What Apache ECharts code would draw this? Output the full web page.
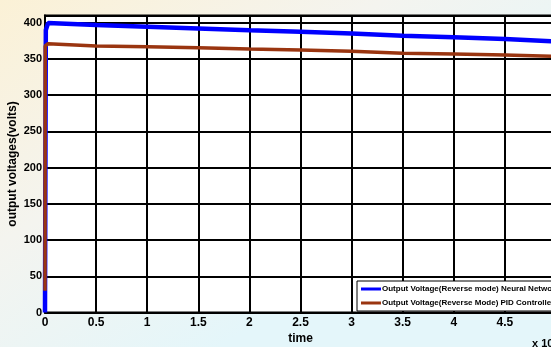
<!DOCTYPE html>
<html>
<head>
<meta charset="utf-8">
<script src="https://cdn.jsdelivr.net/npm/echarts@6/dist/echarts.min.js"></script>
<style>
  html, body { margin: 0; padding: 0; }
  #chart { width: 551px; height: 347px; }
</style>
</head>
<body>
<div id="chart"></div>
<script>
// time axis is in units of x 10^4
var timeNN = [0, 0.008, 0.03, 0.5, 1, 1.5, 2, 2.5, 3, 3.5, 4, 4.5, 5];
var voltNN = [0, 390, 399.5, 397, 394.5, 392, 389.5, 387.5, 385, 382, 380, 377.5, 374];
var timePID = [0, 0.002, 0.03, 0.5, 1, 1.5, 2, 2.5, 3, 3.5, 4, 4.5, 5];
var voltPID = [30, 368, 371, 368, 367, 365.5, 363.8, 362.5, 360.6, 358, 356.7, 355.3, 353.5];
var seriesNames = [
  "Output Voltage(Reverse mode) Neural Network",
  "Output Voltage(Reverse Mode) PID Controller"
];

function pairs(xs, ys) {
  var arr = [];
  for (var i = 0; i < xs.length; i++) {
    arr.push([xs[i], ys[i]]);
  }
  return arr;
}

var myChart = echarts.init(document.getElementById("chart"));
var tickFont = "Liberation Sans";
var option = {
  animation: false,
  backgroundColor: {
    type: "linear", x: 0, y: 0, x2: 0.4, y2: 1,
    colorStops: [
      { offset: 0, color: "#fbf1d6" },
      { offset: 0.5, color: "#f4f4ef" },
      { offset: 1, color: "#e4f6fa" }
    ]
  },
  grid: {
    left: 45,
    right: -5,
    top: 15.5,
    bottom: 34.5,
    containLabel: false,
    outerBoundsMode: "none",
    show: true,
    backgroundColor: "#fff",
    borderColor: "#000",
    borderWidth: 2
  },
  legend: {
    orient: "vertical",
    left: 357,
    top: 281,
    backgroundColor: "#fff",
    borderColor: "#000",
    borderWidth: 1,
    padding: [4, 6, 4, 4],
    itemGap: 6,
    itemWidth: 20,
    itemHeight: 3,
    icon: "rect",
    textStyle: {
      fontFamily: tickFont,
      fontWeight: "bold",
      fontSize: 8,
      color: "#000",
      padding: [0, 0, 0, -4]
    },
    data: seriesNames
  },
  xAxis: {
    type: "value",
    min: 0,
    max: 5,
    interval: 0.5,
    name: "time",
    nameLocation: "middle",
    nameGap: 20,
    nameMoveOverlap: false,
    nameTextStyle: { fontFamily: tickFont, fontWeight: "bold", fontSize: 12, color: "#000" },
    axisLine: { show: true, lineStyle: { color: "#000", width: 2 } },
    axisTick: { show: false },
    axisLabel: {
      color: "#000",
      fontFamily: tickFont,
      fontWeight: "bold",
      fontSize: 12,
      margin: 4,
      showMaxLabel: false
    },
    splitLine: { show: true, lineStyle: { color: "#000", width: 2 } }
  },
  yAxis: {
    type: "value",
    min: 0,
    max: 410,
    interval: 50,
    name: "output voltages(volts)",
    nameLocation: "middle",
    nameGap: 26,
    nameMoveOverlap: false,
    nameTextStyle: { fontFamily: tickFont, fontWeight: "bold", fontSize: 12, color: "#000" },
    axisLine: { show: true, lineStyle: { color: "#000", width: 2 } },
    axisTick: { show: false },
    axisLabel: {
      color: "#000",
      fontFamily: tickFont,
      fontWeight: "bold",
      fontSize: 11,
      margin: 3,
      formatter: function (v) { return v % 50 === 0 ? v : ""; }
    },
    splitLine: { show: true, lineStyle: { color: "#000", width: 2 } }
  },
  series: [
    {
      name: seriesNames[0],
      type: "line",
      symbol: "none",
      color: "#0000ff",
      lineStyle: { width: 4.5 },
      data: pairs(timeNN, voltNN)
    },
    {
      name: seriesNames[1],
      type: "line",
      symbol: "none",
      color: "#9a3510",
      lineStyle: { width: 3.5 },
      data: pairs(timePID, voltPID)
    }
  ],
  graphic: [
    {
      type: "text",
      left: 532,
      top: 338,
      style: { text: "x 10", fill: "#000", font: "bold 11px 'Liberation Sans'" }
    }
  ]
};
myChart.setOption(option);
</script>
</body>
</html>
